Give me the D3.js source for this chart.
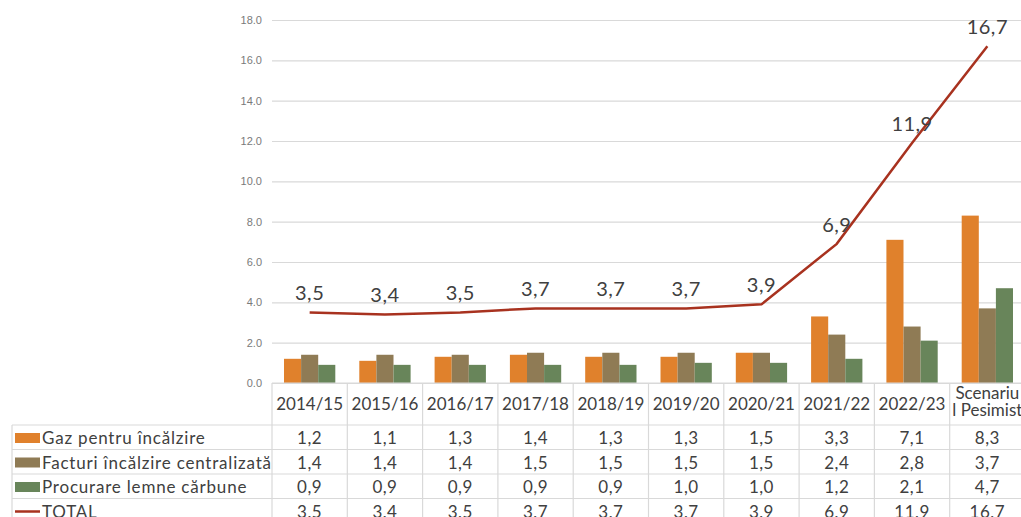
<!DOCTYPE html>
<html>
<head>
<meta charset="utf-8">
<script src="https://cdn.jsdelivr.net/npm/d3@7"></script>
<style>
  body { margin: 0; background: #fff; }
  svg { display: block; font-family: "Lato", "Noto Sans", sans-serif; }
</style>
</head>
<body>
<script>
(function () {
    // data
    var categories = ["2014/15", "2015/16", "2016/17", "2017/18", "2018/19", "2019/20", "2020/21", "2021/22", "2022/23", "Scenariul Pesimist"];
    var seriesNames = ["Gaz pentru încălzire", "Facturi încălzire centralizată", "Procurare lemne cărbune"];
    var gaz = [1.2, 1.1, 1.3, 1.4, 1.3, 1.3, 1.5, 3.3, 7.1, 8.3];
    var facturi = [1.4, 1.4, 1.4, 1.5, 1.5, 1.5, 1.5, 2.4, 2.8, 3.7];
    var lemne = [0.9, 0.9, 0.9, 0.9, 0.9, 1.0, 1.0, 1.2, 2.1, 4.7];
    var total = [3.5, 3.4, 3.5, 3.7, 3.7, 3.7, 3.9, 6.9, 11.9, 16.7];
    var yTicks = [0, 2, 4, 6, 8, 10, 12, 14, 16, 18];

    var seriesValues = [gaz, facturi, lemne];
    var colors = ["#e0812c", "#8f7b55", "#68855a"];
    var lineColor = "#a8321f";
    var textColor = "#404040";
    var gridColor = "#d9d9d9";

    var width = 1021, height = 517;
    var plotLeft = 272, plotTop = 20, plotBottom = 383;
    var legendLeft = 12;
    var headerH = 42, rowH = 24.5;

    var svg = d3.select("body").append("svg")
        .attr("width", width)
        .attr("height", height);

    var x = d3.scaleBand()
        .domain(categories)
        .range([plotLeft, plotLeft + 75.3 * categories.length])
        .padding(0);

    var xInner = d3.scaleBand()
        .domain(seriesNames)
        .range([12, x.bandwidth() - 12]);

    var y = d3.scaleLinear()
        .domain([0, 18])
        .range([plotBottom, plotTop]);

    var fmt = function (v) { return d3.format(".1f")(v).replace(".", ","); };

    // grid + axis
    var yAxis = d3.axisLeft(y)
        .tickValues(yTicks)
        .tickFormat(d3.format(".1f"))
        .tickSize(-(width - plotLeft))
        .tickPadding(10);

    var gy = svg.append("g")
        .attr("transform", "translate(" + plotLeft + ",0)")
        .call(yAxis);
    gy.select(".domain").remove();
    gy.selectAll(".tick line").attr("stroke", gridColor).attr("stroke-width", 1.2);
    gy.selectAll(".tick text")
        .attr("fill", "#7a7a7a")
        .attr("font-size", "11px");

    // bars
    svg.append("g").selectAll("g")
        .data(seriesNames)
        .enter().append("g")
        .attr("fill", function (d, i) { return colors[i]; })
        .selectAll("rect")
        .data(function (d, i) {
            return categories.map(function (c, j) { return { cat: c, s: d, v: seriesValues[i][j] }; });
        })
        .enter().append("rect")
        .attr("x", function (d) { return x(d.cat) + xInner(d.s); })
        .attr("width", xInner.bandwidth())
        .attr("y", function (d) { return y(d.v); })
        .attr("height", function (d) { return plotBottom - y(d.v); });

    // total line
    var line = d3.line()
        .x(function (d, i) { return x(categories[i]) + x.bandwidth() / 2; })
        .y(function (d) { return y(d); });

    svg.append("path")
        .datum(total)
        .attr("fill", "none")
        .attr("stroke", lineColor)
        .attr("stroke-width", 2.5)
        .attr("d", line);

    svg.append("g").selectAll("text")
        .data(total)
        .enter().append("text")
        .attr("x", function (d, i) { return x(categories[i]) + x.bandwidth() / 2; })
        .attr("y", function (d) { return y(d) - 12; })
        .attr("text-anchor", "middle")
        .attr("fill", textColor)
        .attr("font-size", "20px")
        .attr("letter-spacing", "0.5px")
        .text(fmt);

    // data table
    var table = svg.append("g").attr("stroke", gridColor).attr("stroke-width", 1.2);
    var tableBottom = plotBottom + headerH + rowH * 4 + 10;
    table.append("line")
        .attr("x1", plotLeft).attr("x2", width)
        .attr("y1", plotBottom).attr("y2", plotBottom);
    for (var r = 0; r < 4; r++) {
        table.append("line")
            .attr("x1", legendLeft).attr("x2", width)
            .attr("y1", plotBottom + headerH + rowH * r)
            .attr("y2", plotBottom + headerH + rowH * r);
    }
    table.append("line")
        .attr("x1", legendLeft).attr("x2", legendLeft)
        .attr("y1", plotBottom + headerH).attr("y2", tableBottom);
    table.selectAll("line.sep")
        .data(categories)
        .enter().append("line")
        .attr("class", "sep")
        .attr("x1", function (d) { return x(d); })
        .attr("x2", function (d) { return x(d); })
        .attr("y1", plotBottom)
        .attr("y2", tableBottom);
    table.append("line")
        .attr("x1", x.range()[1]).attr("x2", x.range()[1])
        .attr("y1", plotBottom).attr("y2", tableBottom);

    // header labels
    var header = svg.append("g")
        .attr("fill", textColor)
        .attr("font-size", "17px")
        .attr("text-anchor", "middle");
    header.selectAll("text")
        .data(categories)
        .enter().append("text")
        .attr("x", function (d) { return x(d) + x.bandwidth() / 2; })
        .attr("y", plotBottom + 27)
        .each(function (d) {
            var t = d3.select(this);
            if (d.indexOf(" ") > 0) {
                var parts = ["Scenariu", "l Pesimist"];
                t.attr("y", plotBottom + 16);
                parts.forEach(function (p, k) {
                    t.append("tspan")
                        .attr("x", x(d) + x.bandwidth() / 2)
                        .attr("dy", k === 0 ? 0 : 17)
                        .text(p);
                });
            } else {
                t.text(d);
            }
        });

    // table rows
    var rows = seriesNames.concat(["TOTAL"]);
    var rowValues = seriesValues.concat([total]);
    rows.forEach(function (name, r) {
        var top = plotBottom + headerH + rowH * r;
        var g = svg.append("g");
        if (r < 3) {
            g.append("rect")
                .attr("x", legendLeft + 3).attr("y", top + 8)
                .attr("width", 25).attr("height", 10)
                .attr("fill", colors[r]);
        } else {
            g.append("line")
                .attr("x1", legendLeft + 3).attr("x2", legendLeft + 28)
                .attr("y1", top + 13).attr("y2", top + 13)
                .attr("stroke", lineColor).attr("stroke-width", 2.5);
        }
        g.append("text")
            .attr("x", legendLeft + 30)
            .attr("y", top + 19)
            .attr("fill", textColor)
            .attr("font-size", "17px")
            .attr("letter-spacing", "0.8px")
            .text(name);
        g.selectAll("text.val")
            .data(rowValues[r])
            .enter().append("text")
            .attr("class", "val")
            .attr("x", function (d, i) { return x(categories[i]) + x.bandwidth() / 2; })
            .attr("y", top + 19)
            .attr("text-anchor", "middle")
            .attr("fill", textColor)
            .attr("font-size", "17px")
            .attr("letter-spacing", "0.5px")
            .text(fmt);
    });
})();
</script>
</body>
</html>
